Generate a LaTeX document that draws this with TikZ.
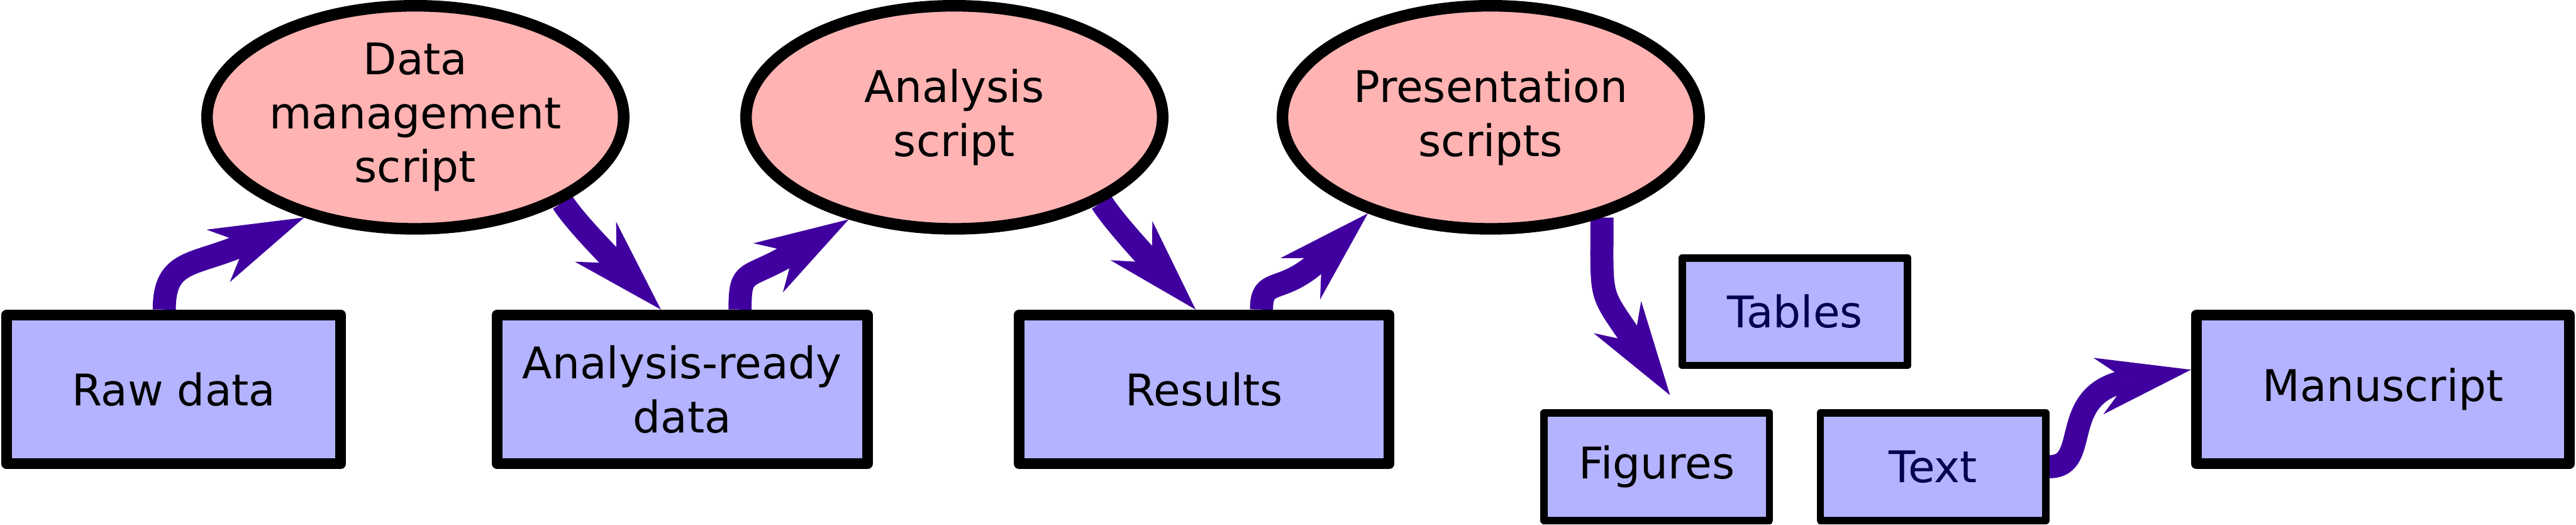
\documentclass[tikz,border=0pt]{standalone}
\usepackage{fontspec}
\setmainfont{DejaVu Sans}
\usepackage{tikz}
\usetikzlibrary{shapes.geometric, arrows.meta, positioning, backgrounds}
\definecolor{boxblue}{RGB}{179,179,255}
\definecolor{scriptpink}{RGB}{255,179,179}
\definecolor{flowpurple}{RGB}{64,0,160}
\definecolor{navytext}{RGB}{0,0,80}

\begin{document}
\begin{tikzpicture}[
    node distance=1.7cm,
    font=\fontsize{14.5pt}{17.9pt}\selectfont,
    databox/.style={
      rectangle,
      draw=black,
      fill=boxblue,
      line width=0.125cm,
      line join=round,
      minimum height=1.74cm,
      minimum width=4.325cm,
      inner sep=0pt,
      align=center
    },
    outbox/.style={
      rectangle,
      draw=black,
      fill=boxblue,
      line width=0.085cm,
      line join=round,
      minimum height=1.255cm,
      minimum width=2.635cm,
      inner sep=0pt,
      align=center
    },
    scriptnode/.style={
      ellipse,
      draw=black,
      fill=scriptpink,
      line width=0.135cm,
      minimum height=2.605cm,
      minimum width=4.87cm,
      inner sep=0pt,
      align=center
    },
    arrow/.style={
      -{Stealth[length=1.1cm, width=0.67cm, inset=0.35cm, line width=0pt]},
      line width=0.27cm,
      draw=flowpurple
    }
  ]

    \useasboundingbox (0,0) rectangle (30.11,-6.13);

    % Data row (Left to Right)
    \node (raw) [databox, minimum width=3.905cm] at (2.03,-4.5475) {Raw data};
    \node (ready) [databox, right=1.705cm of raw] {Analysis-ready\\data};
    \node (results) [databox, right=1.65cm of ready] {Results};
    \node (manuscript) [databox, minimum width=4.36cm, right=9.31cm of results] {Manuscript};

    % Scripts
    \node (dms) [scriptnode] at (4.855,-1.37) {Data\\management\\script};
    \node (anscript) [scriptnode] at (11.155,-1.37) {Analysis\\script};
    \node (presscript) [scriptnode] at (17.425,-1.37) {Presentation\\scripts};

    % Outputs
    \node (tables) [outbox, text=navytext] at (20.98,-3.64) {Tables};
    \node (figures) [outbox] at (19.365,-5.45) {Figures};
    \node (txt) [outbox, text=navytext, right=0.51cm of figures] {Text};

    % Connections
    \begin{scope}[on background layer]
      \draw [arrow] ([xshift=-0.11cm]raw.north) .. controls +(90:0.6) and +(204:1.4) .. (dms.222);
      \draw [arrow] (dms.-30) .. controls +(-58:0.3) and +(134:0.6) .. ([xshift=-0.25cm]ready.north);
      \draw [arrow] ([xshift=0.675cm]ready.north) .. controls +(90:0.5) and +(211:1.4) .. (anscript.224);
      \draw [arrow] (anscript.-30) .. controls +(-58:0.3) and +(133:0.6) .. ([xshift=-0.1cm]results.north);
      \draw [arrow] ([xshift=0.67cm]results.north) .. controls +(90:0.4) and +(224:1.4) .. (presscript.218);
      \draw [arrow] (presscript.-42) .. controls +(-90:1.0) and +(124:1.5) .. ([shift={(0.155cm,0.165cm)}]figures.north);
      \draw [arrow] (txt.east) .. controls +(0:0.5) and +(190:1.6) .. ([yshift=0.23cm]manuscript.west);
    \end{scope}

  \end{tikzpicture}
\end{document}
